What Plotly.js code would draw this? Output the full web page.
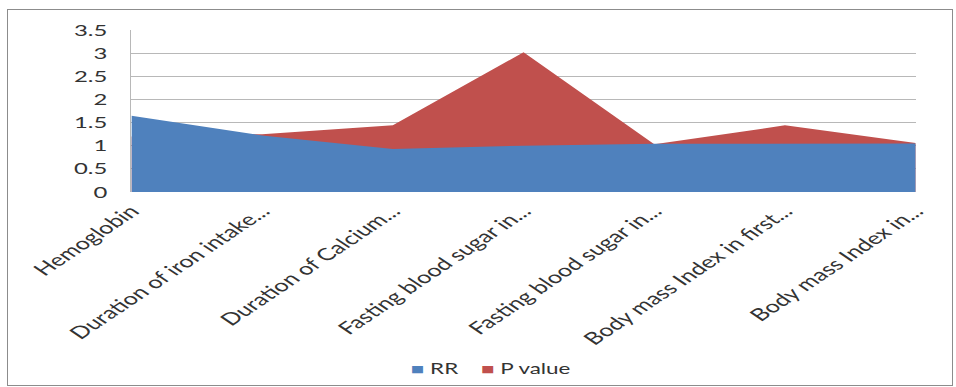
<!DOCTYPE html>
<html><head><meta charset="utf-8">
<script src="https://cdn.plot.ly/plotly-3.0.1.min.js"></script>
<style>
body{margin:0;background:#fff;overflow:hidden;}
#wrap{position:relative;width:956px;height:387px;overflow:hidden;}
#chart{width:640px;height:387px;transform:scaleX(1.49375);transform-origin:0 0;}
#frame{position:absolute;left:7px;top:9px;width:944px;height:375px;border:1px solid #8c8c8c;pointer-events:none;}
</style></head>
<body>
<div id="wrap"><div id="chart"></div><div id="frame"></div></div>
<script>
const categories = ["Hemoglobin","Duration of iron intake...","Duration of Calcium...","Fasting blood sugar in...","Fasting blood sugar in...","Body mass Index in first...","Body mass Index in..."];
const rrValues = [1.65, 1.22, 0.93, 1.0, 1.04, 1.04, 1.05];
const pValues = [1.2, 1.25, 1.44, 3.02, 1.03, 1.44, 1.06];
const yTicks = [0, 0.5, 1, 1.5, 2, 2.5, 3, 3.5];
const yTickText = ["0","0.5","1","1.5","2","2.5","3","3.5"];
const seriesNames = ["RR", "P value"];
const seriesColors = ["#4F81BD", "#C0504D"];

const idx = categories.map((c,i)=>i);
const font = "Lato, 'Open Sans', sans-serif";

const traces = [
  {x: idx, y: pValues, name: seriesNames[1], type: "scatter", mode: "lines", fill: "tozeroy",
   fillcolor: seriesColors[1], line: {width: 0, color: seriesColors[1]}},
  {x: idx, y: rrValues, name: seriesNames[0], type: "scatter", mode: "lines", fill: "tozeroy",
   fillcolor: seriesColors[0], line: {width: 0, color: seriesColors[0]}}
];

const legendText = seriesNames.map((n,i)=>
  '<span style="color:' + seriesColors[i] + ';font-size:15px">\u25A0</span> ' + n).join('&nbsp;&nbsp;&nbsp;&nbsp;');

const layout = {
  width: 640, height: 387,
  margin: {l: 88, r: 27, t: 30, b: 195},
  paper_bgcolor: "rgba(0,0,0,0)", plot_bgcolor: "#fff",
  font: {family: font, size: 15, color: "#333"},
  showlegend: false,
  annotations: [{xref: "paper", yref: "paper", x: 0.4585, y: -1.085, xanchor: "center", yanchor: "middle",
                 text: legendText, showarrow: false, font: {size: 15, color: "#333"}}],
  xaxis: {range: [0, 6], tickvals: idx, ticktext: categories, tickangle: -45,
          showgrid: false, zeroline: false, showline: false, ticks: "", ticklabelstandoff: 5,
          tickfont: {size: 17, color: "#333"}, fixedrange: true, automargin: false},
  yaxis: {range: [0, 3.5], tickvals: yTicks, ticktext: yTickText, showgrid: true,
          gridcolor: "#b8b8b8", gridwidth: 1, zeroline: false, showline: true,
          linecolor: "#b8b8b8", ticks: "", ticklabelstandoff: 12,
          tickfont: {size: 16, color: "#333"}, fixedrange: true, automargin: false}
};

Plotly.newPlot("chart", traces, layout, {displayModeBar: false, staticPlot: true});
</script>
</body></html>
